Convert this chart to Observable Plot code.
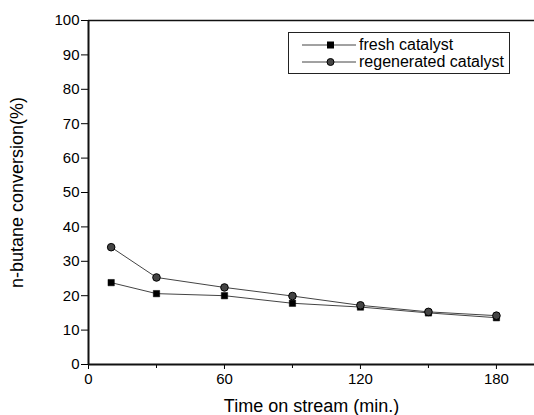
<!DOCTYPE html>
<html>
<head>
<meta charset="utf-8">
<script src="https://cdn.jsdelivr.net/npm/d3@7"></script>
<script src="https://cdn.jsdelivr.net/npm/@observablehq/plot@0.6"></script>
<style>
  html, body { margin: 0; padding: 0; background: #fff; }
  #wrap { position: relative; width: 534px; height: 415px; font-family: "Liberation Sans", Arial, sans-serif; }
  #legend { position: absolute; left: 288px; top: 32px; width: 222px; height: 42px; border: 1px solid #222; box-sizing: border-box; background: #fff; }
  #legend .row { position: absolute; left: 0; height: 16px; display: flex; align-items: center; font-size: 16px; color: #000; }
  #legend svg { margin-left: 13px; margin-right: 3px; }
</style>
</head>
<body>
<div id="wrap"></div>
<script>
const times = [10, 30, 60, 90, 120, 150, 180];
const fresh = [23.8, 20.6, 20.0, 17.8, 16.7, 15.0, 13.6];
const regenerated = [34.1, 25.3, 22.4, 19.9, 17.2, 15.3, 14.2];
const seriesNames = ["fresh catalyst", "regenerated catalyst"];
const xTickLabels = [0, 60, 120, 180];
const xMinorTicks = [30, 90, 150];
const yTickLabels = [0, 10, 20, 30, 40, 50, 60, 70, 80, 90, 100];

const data = [
  ...times.map((t, i) => ({time: t, value: fresh[i], series: seriesNames[0]})),
  ...times.map((t, i) => ({time: t, value: regenerated[i], series: seriesNames[1]}))
];
const freshData = data.filter(d => d.series === seriesNames[0]);
const regenData = data.filter(d => d.series === seriesNames[1]);

const chart = Plot.plot({
  width: 534,
  height: 415,
  marginLeft: 88,
  marginRight: 0,
  marginTop: 20,
  marginBottom: 51,
  style: {fontFamily: '"Liberation Sans", Arial, sans-serif', fontSize: "15px", color: "#000", background: "#fff"},
  x: {type: "linear", domain: [0, 196.8]},
  y: {type: "linear", domain: [0, 100]},
  marks: [
    Plot.ruleY([100], {stroke: "#111", strokeWidth: 1.5}),
    Plot.line(freshData, {x: "time", y: "value", stroke: "#444", strokeWidth: 1}),
    Plot.line(regenData, {x: "time", y: "value", stroke: "#444", strokeWidth: 1}),
    Plot.dot(freshData, {x: "time", y: "value", symbol: "square", r: 3.6, fill: "#000", stroke: "#000", strokeWidth: 0.5}),
    Plot.dot(regenData, {x: "time", y: "value", symbol: "circle", r: 3.8, fill: "#444", stroke: "#000", strokeWidth: 1}),
    Plot.axisX({ticks: xTickLabels, tickSize: 5, tickPadding: 4, tickFormat: d => String(d), fontSize: 15,
      label: "Time on stream (min.)", labelAnchor: "center", labelArrow: "none", labelOffset: 47}),
    Plot.axisX({ticks: xMinorTicks, tickSize: 4, tickFormat: () => "", label: null}),
    Plot.axisY({ticks: yTickLabels, tickSize: 7, tickPadding: 2, fontSize: 15,
      label: "n-butane conversion(%)", labelAnchor: "center", labelArrow: "none", labelOffset: 78}),
    Plot.ruleX([0], {stroke: "#111", strokeWidth: 2}),
    Plot.ruleY([0], {stroke: "#111", strokeWidth: 2})
  ]
});
document.getElementById("wrap").appendChild(chart);

chart.querySelectorAll("g[aria-label='x-axis label'] text, g[aria-label='y-axis label'] text").forEach(t => t.setAttribute("font-size", "18"));

// legend
const legend = document.createElement("div");
legend.id = "legend";
const symbols = [
  '<svg width="54" height="10"><line x1="0" y1="5" x2="54" y2="5" stroke="#444"/><rect x="25" y="1.5" width="7" height="7" fill="#000"/></svg>',
  '<svg width="54" height="10"><line x1="0" y1="5" x2="54" y2="5" stroke="#444"/><circle cx="28.5" cy="5" r="3.5" fill="#444" stroke="#000"/></svg>'
];
seriesNames.forEach((name, i) => {
  const row = document.createElement("div");
  row.className = "row";
  row.style.top = (i === 0 ? 4 : 21) + "px";
  row.innerHTML = symbols[i] + "<span>" + name + "</span>";
  legend.appendChild(row);
});
document.getElementById("wrap").appendChild(legend);
</script>
</body>
</html>
